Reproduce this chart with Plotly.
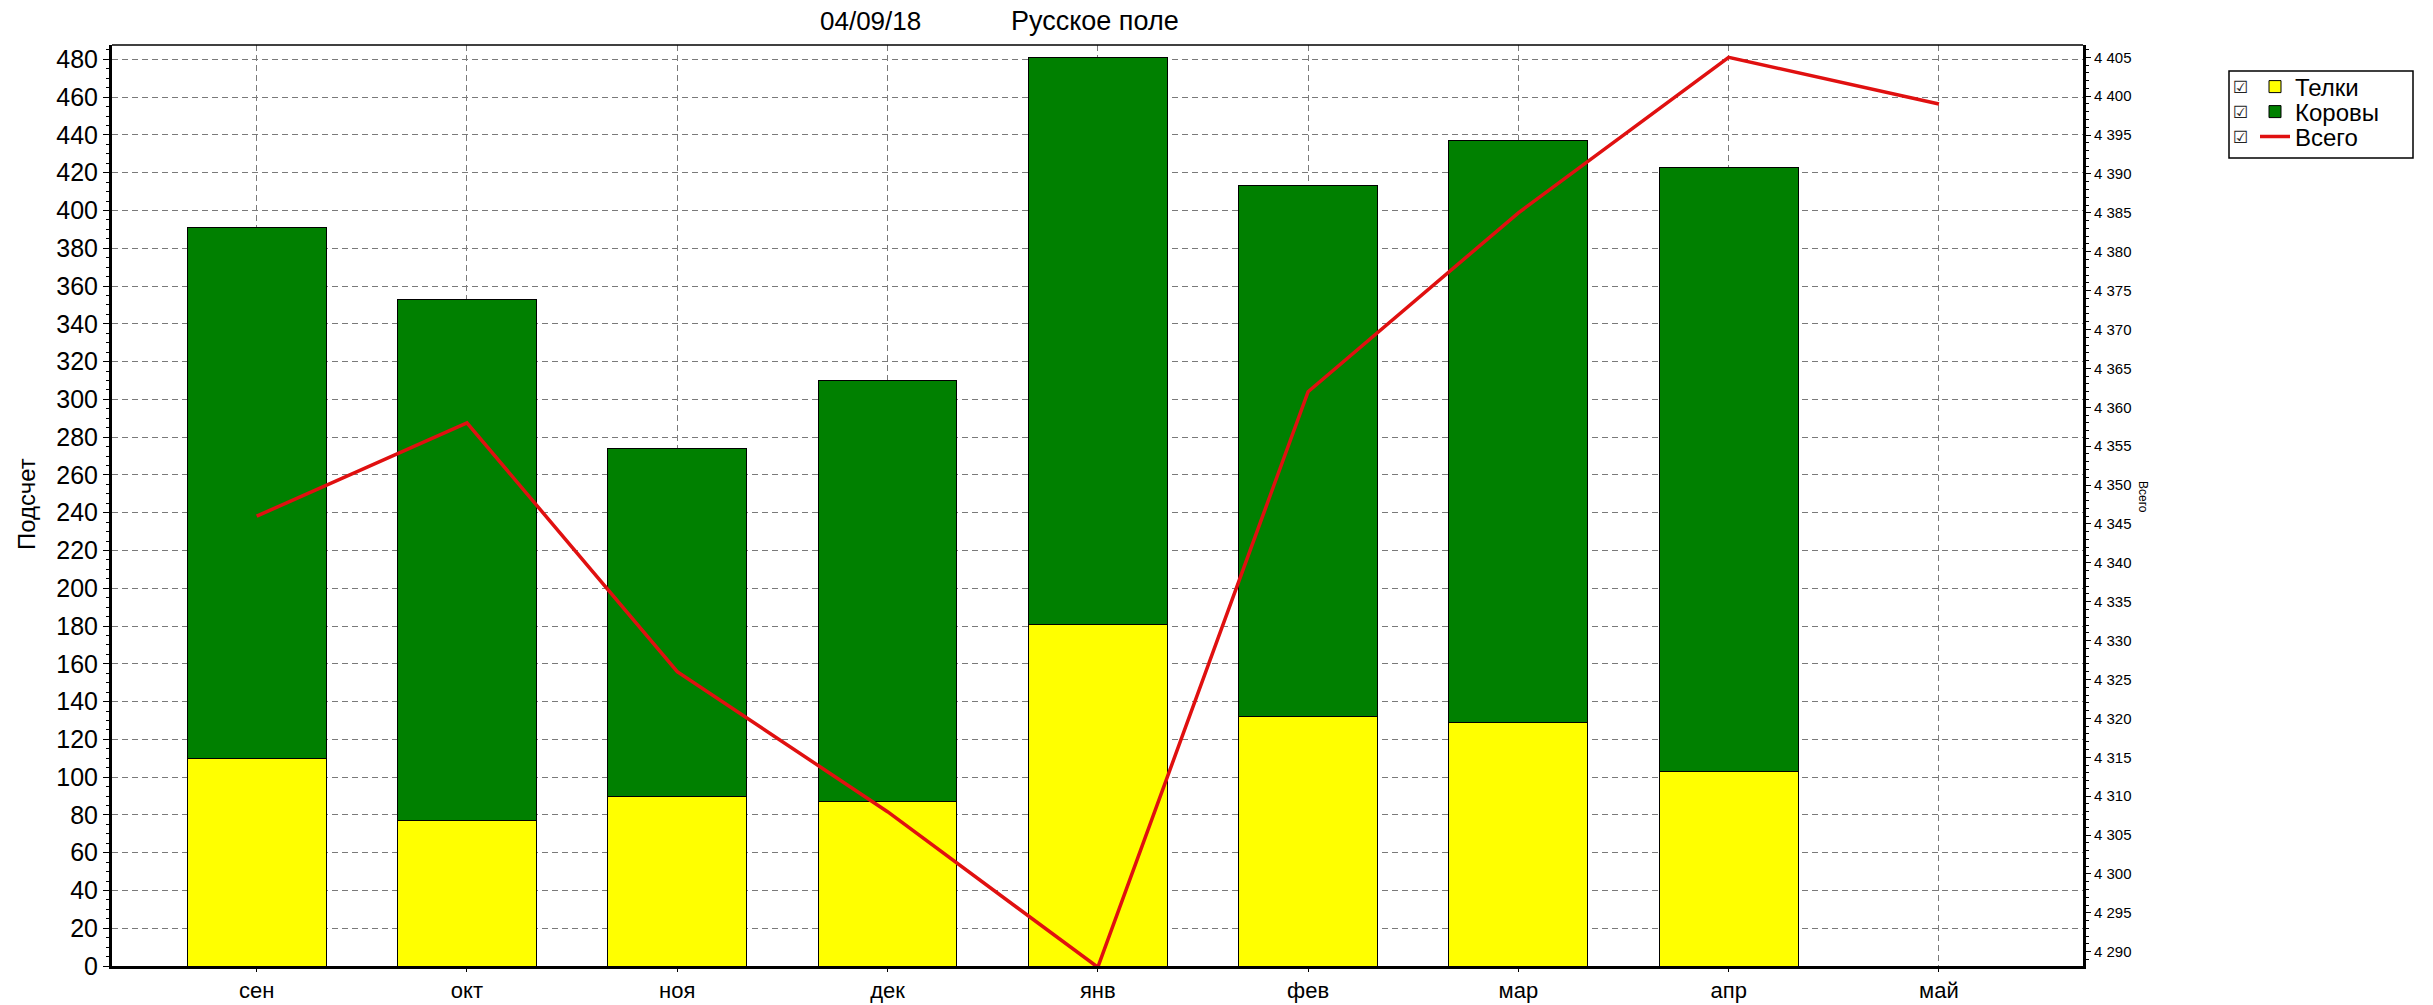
import plotly.graph_objects as go

months = ["сен", "окт", "ноя", "дек", "янв", "фев", "мар", "апр", "май"]
telki = [110, 77, 90, 87, 181, 132, 129, 103, None]
korovy_total = [391, 353, 274, 310, 481, 413, 437, 423, None]
korovy = [None if (t is None or k is None) else k - t for t, k in zip(telki, korovy_total)]
vsego = [4346, 4358, 4326, 4308, 4288, 4362, 4385, 4405, 4399]

left_ticks = list(range(0, 481, 20))
right_ticks = list(range(4290, 4406, 5))

FONT = "Liberation Sans, Arial, sans-serif"
W, H = 2433, 1005
L, R, T, B = 112, 350, 45, 39
PW, PH = W - L - R, H - T - B


def px(xp):
    return (xp - L) / PW


def py(yp):
    return (H - B - yp) / PH


fig = go.Figure()
fig.add_trace(go.Bar(x=months, y=telki, name="Телки", legend="legend",
                     marker=dict(color="#FFFF00", line=dict(color="#000000", width=1)), width=0.66))
fig.add_trace(go.Bar(x=months, y=korovy, name="Коровы", legend="legend2",
                     marker=dict(color="#008000", line=dict(color="#000000", width=1)), width=0.66))
fig.add_trace(go.Scatter(x=months, y=vsego, name="Всего", mode="lines", legend="legend3",
                         line=dict(color="#E01010", width=3.5), yaxis="y2"))

leg_common = dict(xanchor="left", yanchor="middle", font=dict(size=24, family=FONT),
                  bgcolor="rgba(0,0,0,0)", borderwidth=0, itemwidth=30)

grid_dash = "6px,4px"

fig.update_layout(
    width=W, height=H,
    margin=dict(l=L, r=R, t=T, b=B, pad=0, autoexpand=False),
    paper_bgcolor="white", plot_bgcolor="white",
    barmode="stack",
    separators=". ",
    font=dict(family=FONT, color="#000000"),
    showlegend=True,
    legend=dict(x=px(2255), y=py(87), **leg_common),
    legend2=dict(x=px(2255), y=py(112), **leg_common),
    legend3=dict(x=px(2255), y=py(137), **leg_common),
    xaxis=dict(type="category", categoryorder="array", categoryarray=months,
               range=[-0.688, 8.685], showgrid=True, gridcolor="#7a7a7a", griddash=grid_dash, gridwidth=1,
               showline=True, linecolor="#000000", linewidth=3, mirror=False, automargin=False,
               ticks="outside", ticklen=3, tickcolor="#000000", tickfont=dict(size=22, family=FONT),
               ticklabelstandoff=0, zeroline=False),
    yaxis=dict(range=[0, 487.6], tickvals=left_ticks, showgrid=True, gridcolor="#7a7a7a", griddash=grid_dash, gridwidth=1,
               showline=True, linecolor="#000000", linewidth=3, ticks="outside", ticklen=6, tickcolor="#000000",
               tickfont=dict(size=25, family=FONT), zeroline=False, automargin=False,
               minor=dict(ticks="outside", ticklen=3, dtick=5, tickcolor="#000000", showgrid=False)),
    yaxis2=dict(range=[4288.16, 4406.58], tickvals=right_ticks, tickformat=",d", overlaying="y", side="right",
                showgrid=False, showline=True, linecolor="#000000", linewidth=3, ticks="outside", ticklen=5,
                tickcolor="#000000", tickfont=dict(size=15, family=FONT), zeroline=False, automargin=False,
                minor=dict(ticks="outside", ticklen=3, dtick=1, tickcolor="#000000", showgrid=False)),
)

# top frame line (thin)
fig.add_shape(type="line", xref="paper", yref="paper", x0=0, x1=1, y0=1, y1=1, line=dict(color="#000000", width=1.5))
# legend frame
fig.add_shape(type="rect", xref="paper", yref="paper", x0=px(2229), x1=px(2413), y0=py(71), y1=py(158),
              line=dict(color="#000000", width=1.5))

annotations = [
    dict(text="04/09/18", x=px(870), y=py(21), xref="paper", yref="paper", showarrow=False,
         font=dict(size=26, family=FONT), xanchor="center", yanchor="middle"),
    dict(text="Русское поле", x=px(1095), y=py(21), xref="paper", yref="paper", showarrow=False,
         font=dict(size=27, family=FONT), xanchor="center", yanchor="middle"),
    dict(text="Подсчет", x=px(26), y=py(504), xref="paper", yref="paper", showarrow=False, textangle=-90,
         font=dict(size=24, family=FONT), xanchor="center", yanchor="middle"),
    dict(text="Всего", x=px(2143), y=py(497), xref="paper", yref="paper", showarrow=False, textangle=90,
         font=dict(size=12, family=FONT), xanchor="center", yanchor="middle"),
]
for yy in (87, 112, 137):
    annotations.append(dict(text="☑", x=px(2240), y=py(yy), xref="paper", yref="paper", showarrow=False,
                            font=dict(size=17, family="DejaVu Sans", color="#222222"),
                            xanchor="center", yanchor="middle"))
fig.update_layout(annotations=annotations)

fig.write_html("out.html", config={"displayModeBar": False},
               post_script="document.body.style.margin='0';")
